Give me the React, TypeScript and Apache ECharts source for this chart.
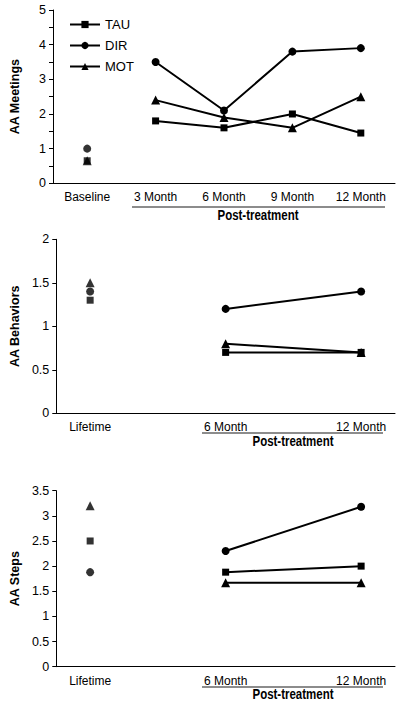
import React, { useEffect, useRef } from "react";
import * as echarts from "echarts";

// ---- Data ----
const meetingCategories = ["Baseline", "3 Month", "6 Month", "9 Month", "12 Month"];
const meetingsTAU = [0.65, 1.8, 1.6, 2.0, 1.45];
const meetingsDIR = [1.0, 3.5, 2.1, 3.8, 3.9];
const meetingsMOT = [0.65, 2.4, 1.9, 1.6, 2.5];

const laterCategories = ["Lifetime", "", "6 Month", "", "12 Month"];
const behaviorsTAU = [1.3, null, 0.7, null, 0.7];
const behaviorsDIR = [1.4, null, 1.2, null, 1.4];
const behaviorsMOT = [1.5, null, 0.8, null, 0.7];

const stepsTAU = [2.5, null, 1.88, null, 2.0];
const stepsDIR = [1.88, null, 2.3, null, 3.18];
const stepsMOT = [3.2, null, 1.67, null, 1.67];

const groupNames = ["TAU", "DIR", "MOT"];
const groupSymbols = ["rect", "circle", "triangle"];
const groupSizes = [7, 8, 9];

const FONT = '"Liberation Sans", Arial, sans-serif';
const INK = "#000";

function baselineOnly(arr: (number | null)[]) {
  return arr.map((v, i) => (i === 0 ? v : "-"));
}
function afterBaseline(arr: (number | null)[]) {
  return arr.map((v, i) => (i === 0 || v === null ? "-" : v));
}

export default function App() {
  const ref = useRef<HTMLDivElement>(null);
  useEffect(() => {
    if (!ref.current) return;
    const chart = echarts.init(ref.current, undefined, { renderer: "svg" });

    const grids = [
      { left: 52, right: 5, top: 10, height: 173.3 },
      { left: 52, right: 5, top: 239.3, height: 174 },
      { left: 52, right: 5, top: 490.7, height: 176 },
    ];

    const xAxisBase = (gridIndex: number, data: string[], sparse: boolean) => ({
      type: "category",
      gridIndex,
      data,
      boundaryGap: true,
      axisLine: { lineStyle: { color: INK, width: 1 } },
      axisTick: {
        alignWithLabel: true,
        length: 4,
        lineStyle: { color: INK },
        interval: sparse ? (i: number) => i % 2 === 0 : 0,
      },
      axisLabel: {
        interval: 0,
        color: INK,
        fontFamily: FONT,
        fontSize: 12,
        margin: 8,
      },
      splitLine: { show: false },
    });

    const yAxisBase = (gridIndex: number, max: number, name: string, intOnly: boolean) => ({
      type: "value",
      gridIndex,
      min: 0,
      max,
      interval: 0.5,
      name,
      nameLocation: "middle",
      nameRotate: 90,
      nameGap: 32,
      nameTextStyle: { color: INK, fontFamily: FONT, fontSize: 12.5, fontWeight: "bold" },
      axisLine: { show: true, lineStyle: { color: INK, width: 1 } },
      axisTick: { show: true, length: 4, lineStyle: { color: INK } },
      axisLabel: {
        color: INK,
        fontFamily: FONT,
        fontSize: 12.5,
        margin: 7,
        formatter: (v: number) => (intOnly ? (Number.isInteger(v) ? String(v) : "") : String(v)),
      },
      splitLine: { show: false },
    });

    const series: any[] = [];
    const panels = [
      { idx: 0, data: [meetingsTAU, meetingsDIR, meetingsMOT] },
      { idx: 1, data: [behaviorsTAU, behaviorsDIR, behaviorsMOT] },
      { idx: 2, data: [stepsTAU, stepsDIR, stepsMOT] },
    ];
    panels.forEach((p) => {
      p.data.forEach((arr, g) => {
        series.push({
          type: "line",
          name: groupNames[g],
          xAxisIndex: p.idx,
          yAxisIndex: p.idx,
          data: afterBaseline(arr as any),
          connectNulls: true,
          symbol: groupSymbols[g],
          symbolSize: groupSizes[g],
          showAllSymbol: true,
          lineStyle: { color: INK, width: 2 },
          itemStyle: { color: INK },
          z: 3,
        });
      });
    });
    panels.forEach((p) => {
      p.data.forEach((arr, g) => {
        series.push({
          type: "scatter",
          name: groupNames[g] + " baseline",
          xAxisIndex: p.idx,
          yAxisIndex: p.idx,
          data: baselineOnly(arr as any),
          symbol: groupSymbols[g],
          symbolSize: groupSizes[g],
          itemStyle: { color: INK },
          z: g === 2 ? 4 : 3,
        });
      });
    });

    const underline = (x1: number, x2: number, y: number) => ({
      type: "line",
      shape: { x1, y1: y, x2, y2: y },
      style: { stroke: "#666", lineWidth: 1.5 },
    });
    const ptText = (x: number, y: number) => ({
      type: "text",
      x,
      y,
      scaleX: 0.82,
      style: {
        text: "Post-treatment",
        fill: INK,
        font: `bold 14px ${FONT}`,
        textAlign: "center",
        textVerticalAlign: "middle",
      },
    });

    chart.setOption({
      animation: false,
      backgroundColor: "#fff",
      grid: grids,
      xAxis: [
        xAxisBase(0, meetingCategories, false),
        xAxisBase(1, laterCategories, true),
        xAxisBase(2, laterCategories, true),
      ],
      yAxis: [
        yAxisBase(0, 5, "AA Meetings", true),
        yAxisBase(1, 2, "AA Behaviors", false),
        yAxisBase(2, 3.5, "AA Steps", false),
      ],
      legend: {
        data: groupNames,
        orient: "vertical",
        left: 64,
        top: 13,
        itemWidth: 30,
        itemHeight: 9,
        itemGap: 8,
        textStyle: { color: INK, fontFamily: FONT, fontSize: 13 },
        selectedMode: false,
      },
      series,
      graphic: [
        underline(132, 385, 207),
        ptText(258, 215.5),
        underline(202, 383, 433),
        ptText(293, 441),
        underline(202, 383, 687),
        ptText(293, 694.5),
      ],
    });
    return () => chart.dispose();
  }, []);

  return (
    <div
      ref={ref}
      style={{ position: "fixed", left: 0, top: 0, width: 400, height: 705, background: "#fff" }}
    />
  );
}
